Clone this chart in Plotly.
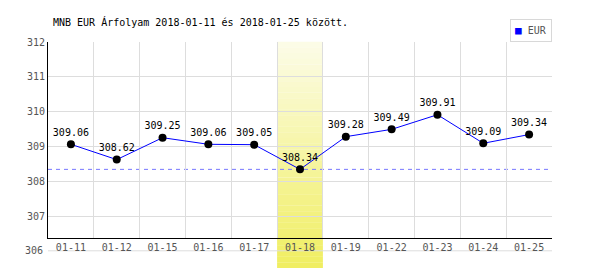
import plotly.graph_objects as go

dates = ["01-11", "01-12", "01-15", "01-16", "01-17", "01-18", "01-19", "01-22", "01-23", "01-24", "01-25"]
rates = [309.06, 308.62, 309.25, 309.06, 309.05, 308.34, 309.28, 309.49, 309.91, 309.09, 309.34]
y_ticks = [306, 307, 308, 309, 310, 311, 312]
title_text = "MNB EUR Árfolyam 2018-01-11 és 2018-01-25 között."
series_name = "EUR"

W, H = 600, 270
ML, MR, MT, MB = 48, 48, 42, 32
plot_h = H - MT - MB
y_top = max(y_ticks)
unit_px = 34.8
y_bottom = y_top - plot_h / unit_px

FONT = "DejaVu Sans Mono"
min_idx = rates.index(min(rates))
min_val = min(rates)

fig = go.Figure()
fig.add_trace(go.Scatter(
    x=dates, y=rates, mode="lines+markers+text",
    line=dict(color="#0000ff", width=1),
    marker=dict(color="black", size=8),
    text=[f"{v:.2f}" for v in rates],
    textposition="top center",
    textfont=dict(family=FONT, size=10, color="black"),
    showlegend=False, cliponaxis=False,
))

shapes = []
# gradient band on min date
n = 40
band_bottom = -30 / plot_h
c_top = (252, 252, 232)
c_bot = (240, 238, 96)
for i in range(n):
    t0 = i / n
    t1 = (i + 1) / n
    y1 = 1 - t0 * (1 - band_bottom)
    y0 = 1 - t1 * (1 - band_bottom)
    tm = (t0 + t1) / 2
    col = tuple(round(c_top[k] + (c_bot[k] - c_top[k]) * tm) for k in range(3))
    shapes.append(dict(type="rect", xref="x", yref="paper",
                       x0=min_idx - 0.5, x1=min_idx + 0.5, y0=y0, y1=y1 + 0.001,
                       fillcolor="rgb(%d,%d,%d)" % col, line=dict(width=0), layer="between"))
# dashed min line
shapes.append(dict(type="line", xref="paper", yref="y", x0=0, x1=1, y0=min_val, y1=min_val,
                   line=dict(color="#7777ff", width=1, dash="4px,4px"), layer="below"))
# lowest gridline drawn below axis
frac306 = (y_ticks[0] - y_bottom) / (y_top - y_bottom)
shapes.append(dict(type="line", xref="paper", yref="paper", x0=0, x1=1, y0=frac306, y1=frac306,
                   line=dict(color="#dddddd", width=1), layer="below"))

annotations = [
    dict(text=str(y_ticks[0]), xref="paper", yref="paper", x=0, y=frac306,
         xanchor="right", yanchor="middle", xshift=-3, showarrow=False,
         font=dict(family=FONT, size=10, color="#555555")),
    dict(text="<span style='color:#0000ff;font-size:11px'>■</span> <span style='color:#555555'>" + series_name + "</span>",
         xref="paper", yref="paper", x=1, y=1, xanchor="right", yanchor="bottom",
         showarrow=False, bordercolor="#d8d8d8", borderwidth=1, borderpad=4,
         bgcolor="white", font=dict(family=FONT, size=10, color="#555555")),
]

fig.update_layout(
    width=W, height=H,
    margin=dict(l=ML, r=MR, t=MT, b=MB, pad=0),
    paper_bgcolor="white", plot_bgcolor="white",
    title=dict(text=title_text, x=53 / W, xanchor="left", xref="container", y=1 - 22 / H,
               yref="container", yanchor="middle", font=dict(family=FONT, size=10, color="black")),
    xaxis=dict(type="category", tickson="boundaries", showgrid=True, gridcolor="#dddddd",
               gridwidth=1, showline=True, linecolor="black", linewidth=1, ticks="",
               tickfont=dict(family=FONT, size=10, color="#555555"), range=[-0.5, len(dates) - 0.5],
               fixedrange=True),
    yaxis=dict(range=[y_bottom, y_top], tickvals=y_ticks[1:], showgrid=True, gridcolor="#dddddd",
               gridwidth=1, showline=True, linecolor="black", linewidth=1, ticks="",
               zeroline=False, tickfont=dict(family=FONT, size=10, color="#555555")),
    shapes=shapes, annotations=annotations, showlegend=False,
)

fig.write_html("out.html")
